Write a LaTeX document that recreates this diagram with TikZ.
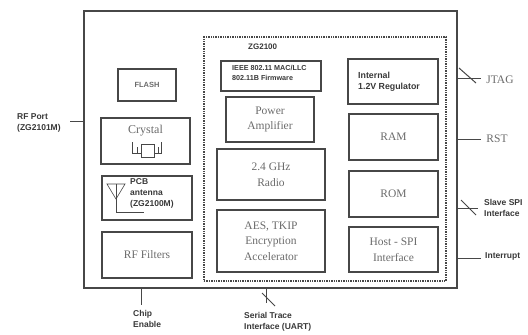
\documentclass[tikz,border=0pt]{standalone}
\usepackage{fontspec}
\setmainfont{Liberation Serif}
\setsansfont{Liberation Sans}
\definecolor{ln}{gray}{0.28}
\definecolor{tx}{gray}{0.42}
\definecolor{sx}{gray}{0.22}
\tikzset{
 x=1pt,y=-1pt,
 blk/.style={draw=ln,line width=1.5pt,minimum width=#1,inner sep=0pt,align=center,font=\fontsize{11.5}{15.5}\selectfont,text=tx},
 sbk/.style={draw=ln,line width=1.5pt,inner sep=0pt},
 lab/.style={inner sep=0pt,align=left,anchor=west,font=\sffamily\bfseries\fontsize{8.5}{11}\selectfont,text=sx},
 srf/.style={inner sep=0pt,font=\fontsize{11.5}{12}\selectfont,text=tx},
 wire/.style={draw=ln,line width=0.8pt},
 slash/.style={draw=ln,line width=1pt},
 thin sym/.style={draw=ln,line width=0.6pt}
}
\begin{document}
\begin{tikzpicture}
\useasboundingbox (0,0) rectangle (528,335);
\node[draw=ln,line width=1.7pt,minimum width=373pt,minimum height=277pt,inner sep=0pt] (chip) at (270.5,149.5) {};
\node[draw=ln,line width=1.4pt,densely dotted,minimum width=242pt,minimum height=244pt,inner sep=0pt] (zg) at (325,159) {};
\node[lab,font=\sffamily\bfseries\fontsize{8}{8}\selectfont] (zgt) at (248,47) {ZG2100};
% left column
\node[sbk,minimum width=58pt,minimum height=32pt,font=\sffamily\bfseries\fontsize{7.5}{8}\selectfont,text=tx] (flash) at (147,85) {FLASH};
\node[blk=89pt,minimum height=46pt] (crystal) at (145.5,141) {};
\node[srf,font=\fontsize{12}{12}\selectfont] (crystalt) at (145.5,131) {Crystal};
\node[blk=90pt,minimum height=44pt] (pcb) at (147,198) {};
\node[lab] (pcbt) at (130,193) {PCB\\antenna\\(ZG2100M)};
\node[blk=90pt,minimum height=46pt] (rff) at (147,255) {RF Filters};
% centre column
\node[sbk,minimum width=100pt,minimum height=30pt] (ieee) at (271,76) {};
\node[lab,font=\sffamily\bfseries\fontsize{7.2}{10}\selectfont] (ieeet) at (232,73) {IEEE 802.11 MAC/LLC\\802.11B Firmware};
\node[blk=88pt,minimum height=45pt] (pa) at (270,119.5) {Power\\Amplifier};
\node[blk=108pt,minimum height=51pt] (radio) at (271,174.5) {2.4 GHz\\Radio};
\node[blk=108pt,minimum height=62pt] (aes) at (271,241) {AES, TKIP\\Encryption\\Accelerator};
% right column
\node[sbk,minimum width=90pt,minimum height=45pt] (reg) at (393,81.5) {};
\node[lab,font=\sffamily\bfseries\fontsize{8.8}{11}\selectfont] (regt) at (358,81.5) {Internal\\1.2V Regulator};
\node[blk=89pt,minimum height=46pt] (ram) at (393.5,137) {RAM};
\node[blk=89pt,minimum height=46pt] (rom) at (393.5,194) {ROM};
\node[blk=89pt,minimum height=45pt] (host) at (393.5,249.5) {Host - SPI\\Interface};
% crystal symbol
\draw[thin sym] (132,142) -- (132,153) -- (141,153);
\draw[thin sym] (161,142) -- (161,153) -- (154,153);
\draw[thin sym] (141,144) -- (154,144) -- (154,157) -- (141,157) -- cycle;
\draw[thin sym] (137,147) -- (137,154) (158,147) -- (158,154);
% antenna symbol
\draw[thin sym] (107,184) -- (125,184) -- (116,199) -- cycle;
\draw[thin sym] (116,184) -- (116,212) -- (144,212);
% external labels
\node[lab] (rfp) at (17,122.5) {RF Port\\(ZG2101M)};
\coordinate (rfe) at (70,121);
\draw[wire] (rfe) -- (chip.west |- rfe);
\node[srf] (jtag) at (500,80) {JTAG};
\coordinate (ja) at (chip.east |- jtag);
\coordinate (jb) at (481,78);
\draw[wire] (chip.east |- jb) -- (jb);
\coordinate (js1) at (459,68);
\coordinate (js2) at (476,83);
\draw[slash] (js1) -- (js2);
\node[srf] (rst) at (497,139) {RST};
\coordinate (rste) at (481,139.5);
\draw[wire] (chip.east |- rste) -- (rste);
\node[lab] (spi) at (484,207.5) {Slave SPI\\Interface};
\coordinate (spie) at (478,208);
\draw[wire] (chip.east |- spie) -- (spie);
\coordinate (ss1) at (461,200);
\coordinate (ss2) at (476,215);
\draw[slash] (ss1) -- (ss2);
\node[lab] (intr) at (485,256) {Interrupt};
\coordinate (inte) at (481,258);
\draw[wire] (chip.east |- inte) -- (inte);
\node[lab] (chipen) at (133,318.5) {Chip\\Enable};
\coordinate (cee) at (141.5,305);
\draw[line width=1.2pt,draw=ln] (chip.south -| cee) -- (cee);
\node[lab] (uart) at (244,321.5) {Serial Trace\\Interface (UART)};
\coordinate (ue) at (266,303);
\draw[wire] (chip.south -| ue) -- (ue);
\coordinate (us1) at (262,293);
\coordinate (us2) at (275,306);
\draw[slash] (us1) -- (us2);
\end{tikzpicture}
\end{document}
